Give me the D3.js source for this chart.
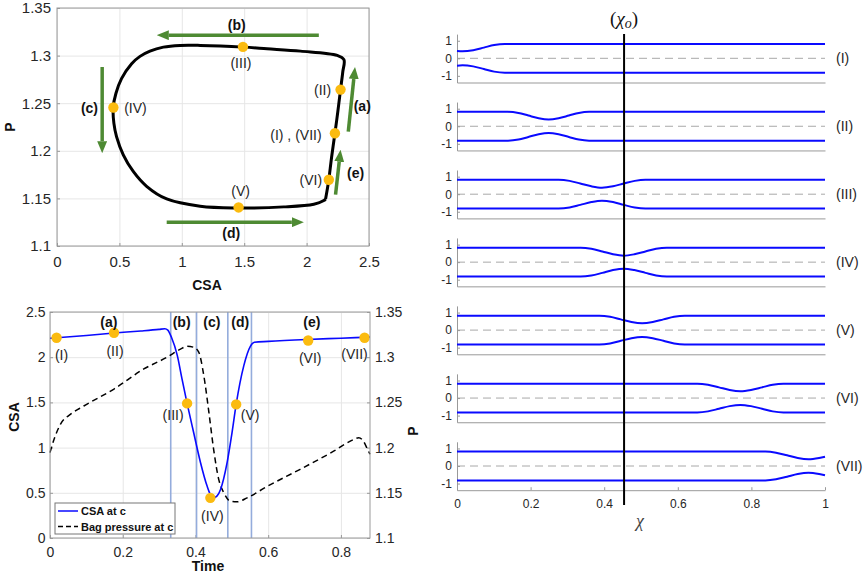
<!DOCTYPE html>
<html><head><meta charset="utf-8">
<script src="https://cdn.jsdelivr.net/npm/d3@7"></script>
<style>
body{margin:0;background:#fff;}
svg{display:block;font-family:"Liberation Sans",Arial,Helvetica,sans-serif;}
</style></head><body>
<svg id="chart" width="865" height="575"></svg>
<script>
// ---------------- DATA ----------------
// Top-left: pressure–area loop (CSA, P)
const loopCSA = [2.152,2.165,2.178,2.200,2.227,2.250,2.272,2.290,2.299,2.245,1.951,1.683,1.495,1.147,0.986,0.852,0.745,0.665,0.598,0.517,0.472,0.450,0.456,0.477,0.531,0.611,0.718,0.879,1.147,1.442,1.817,2.058,2.138,2.152];
const loopP   = [1.1494,1.159,1.1696,1.193,1.2184,1.241,1.2643,1.283,1.2957,1.3002,1.3047,1.3072,1.3089,1.3107,1.3107,1.3089,1.3047,1.2992,1.2915,1.2758,1.2602,1.2455,1.2288,1.2149,1.1958,1.1783,1.1627,1.1494,1.1418,1.1400,1.1411,1.1439,1.1477,1.1494];
const loopDotLabels = ["(I) , (VII)","(II)","(III)","(IV)","(V)","(VI)"];
const loopDotCSA = [2.227,2.272,1.49,0.452,1.455,2.178];
const loopDotP   = [1.2184,1.2643,1.3092,1.2455,1.1405,1.1696];
const phaseNames = ["(a)","(b)","(c)","(d)","(e)"];
// arrows: start CSA, start P, end CSA, end P
const arrowX1 = [2.334,2.098,0.362,0.879,2.232];
const arrowY1 = [1.2201,1.3215,1.288,1.125,1.154];
const arrowX2 = [2.388,0.800,0.362,1.978,2.272];
const arrowY2 = [1.288,1.3215,1.1975,1.125,1.201];
const arrowLabelCSA = [2.446,1.44,0.26,1.396,2.393];
const arrowLabelP   = [1.247,1.3326,1.2445,1.114,1.177];

// Bottom-left: time series
const timeCSA = [0,0.1,0.176,0.25,0.300,0.316,0.324,0.334,0.35,0.363,0.377,0.395,0.414,0.432,0.441,0.449,0.459,0.469,0.487,0.50,0.512,0.533,0.551,0.562,0.6,0.707,0.8,0.88];
const valCSA  = [2.21,2.24,2.267,2.29,2.308,2.315,2.30,2.22,2.02,1.76,1.49,1.167,0.833,0.574,0.48,0.444,0.463,0.537,0.833,1.15,1.48,1.907,2.120,2.165,2.175,2.196,2.21,2.222];
const timeP = [0,0.011,0.029,0.057,0.093,0.176,0.258,0.322,0.359,0.377,0.395,0.409,0.423,0.437,0.45,0.464,0.478,0.496,0.514,0.542,0.597,0.688,0.78,0.835,0.849,0.862,0.871,0.88];
const valP  = [1.1944,1.209,1.226,1.237,1.246,1.2648,1.287,1.30,1.309,1.312,1.311,1.3056,1.2796,1.2389,1.198,1.1648,1.15,1.1407,1.14,1.1444,1.157,1.176,1.196,1.209,1.211,1.207,1.20,1.1926];
const stageLabels = ["(I)","(II)","(III)","(IV)","(V)","(VI)","(VII)"];
const stageTime = [0.018,0.176,0.377,0.441,0.512,0.71,0.865];
const stageCSA  = [2.215,2.27,1.489,0.444,1.478,2.185,2.215];
const phaseBounds = [0.332,0.403,0.489,0.554];
const phaseTime = [0.162,0.362,0.445,0.523,0.72];
const legendNames = ["CSA at c","Bag pressure at c"];

// Right: tube wall profiles (chi, upper wall radius) for stages I..VII
const wallI   = [[0,0.42],[0.015,0.40],[0.044,0.46],[0.073,0.61],[0.101,0.76],[0.13,0.82],[1,0.82]];
const wallII  = [[0,0.82],[0.139,0.82],[0.167,0.76],[0.194,0.61],[0.222,0.46],[0.249,0.39],[0.276,0.46],[0.304,0.61],[0.331,0.76],[0.359,0.82],[1,0.82]];
const wallIII = [[0,0.82],[0.276,0.82],[0.306,0.76],[0.335,0.61],[0.365,0.45],[0.394,0.37],[0.424,0.45],[0.453,0.61],[0.483,0.76],[0.512,0.82],[1,0.82]];
const wallIV  = [[0,0.82],[0.336,0.82],[0.365,0.76],[0.395,0.61],[0.424,0.45],[0.453,0.37],[0.482,0.45],[0.512,0.61],[0.541,0.76],[0.570,0.82],[1,0.82]];
const wallV   = [[0,0.82],[0.387,0.82],[0.416,0.76],[0.445,0.61],[0.474,0.46],[0.503,0.39],[0.532,0.46],[0.561,0.61],[0.590,0.76],[0.619,0.82],[1,0.82]];
const wallVI  = [[0,0.82],[0.653,0.82],[0.682,0.76],[0.712,0.61],[0.741,0.46],[0.770,0.39],[0.799,0.46],[0.829,0.61],[0.858,0.76],[0.887,0.82],[1,0.82]];
const wallVII = [[0,0.82],[0.838,0.82],[0.867,0.76],[0.897,0.61],[0.926,0.46],[0.955,0.39],[0.984,0.46],[1,0.53]];
const chiO = 0.454;

const ticksCSA = [0,0.5,1,1.5,2,2.5];
const ticksP = [1.1,1.15,1.2,1.25,1.3,1.35];
const ticksTime = [0,0.2,0.4,0.6,0.8];
const ticksChi = [0,0.2,0.4,0.6,0.8,1];
const ticksWall = [-1,0,1];

// ---------------- DRAW ----------------
const svg = d3.select("#chart");
const axisColor = "#999", gridColor = "#e6e6e6", textColor = "#262626";
const FONT = "Liberation Sans, Arial, Helvetica, sans-serif";
const orange = "#fbbb10", green = "#4e8a33", blue = "#0a0aff";
const fmt = d => String(+d.toFixed(4));

function styleAxis(s, size, keepDomain) {
  if (!keepDomain) s.select(".domain").remove();
  s.attr("font-family", FONT).attr("font-size", size);
  s.selectAll("text").attr("fill", textColor);
  s.selectAll("line").attr("stroke", axisColor);
  s.select(".domain").attr("stroke", axisColor);
}
function grid(g, x, y, xt, yt, L, R, T, B) {
  g.append("g").attr("transform", `translate(0,${B})`)
    .call(d3.axisBottom(x).tickValues(xt).tickSize(-(B - T)).tickFormat(""))
    .call(s => { s.select(".domain").remove(); s.selectAll("line").attr("stroke", gridColor); });
  g.append("g").attr("transform", `translate(${L},0)`)
    .call(d3.axisLeft(y).tickValues(yt).tickSize(-(R - L)).tickFormat(""))
    .call(s => { s.select(".domain").remove(); s.selectAll("line").attr("stroke", gridColor); });
}

// ===== Top-left chart =====
const A = {l: 57, r: 369, t: 8, b: 246};
const xA = d3.scaleLinear().domain([0, 2.5]).range([A.l, A.r]);
const yA = d3.scaleLinear().domain([1.1, 1.35]).range([A.b, A.t]);
const gA = svg.append("g");
grid(gA, xA, yA, ticksCSA, ticksP, A.l, A.r, A.t, A.b);
gA.append("g").attr("transform", `translate(0,${A.b})`)
  .call(d3.axisBottom(xA).tickValues(ticksCSA).tickSize(-3).tickSizeOuter(0).tickPadding(10).tickFormat(fmt))
  .call(s => styleAxis(s, 15));
gA.append("g").attr("transform", `translate(${A.l},0)`)
  .call(d3.axisLeft(yA).tickValues(ticksP).tickSize(-3).tickSizeOuter(0).tickPadding(6).tickFormat(fmt))
  .call(s => styleAxis(s, 15));
gA.append("rect").attr("x", A.l).attr("y", A.t).attr("width", A.r - A.l).attr("height", A.b - A.t)
  .attr("fill", "none").attr("stroke", axisColor);

const loopPts = loopCSA.map((c, i) => [c, loopP[i]]);
gA.append("path").datum(loopPts)
  .attr("d", d3.line().x(d => xA(d[0])).y(d => yA(d[1])).curve(d3.curveCatmullRom.alpha(0.5)))
  .attr("fill", "none").attr("stroke", "#000").attr("stroke-width", 3).attr("stroke-linejoin", "round");

// arrows
const defs = svg.append("defs");
defs.append("marker").attr("id", "ah").attr("viewBox", "0 -5 12 10")
  .attr("refX", 0).attr("refY", 0).attr("markerWidth", 12).attr("markerHeight", 10)
  .attr("markerUnits", "userSpaceOnUse").attr("orient", "auto")
  .append("path").attr("d", "M0,-5L12,0L0,5Z").attr("fill", green);
arrowX1.forEach((_, i) => {
  const x1 = xA(arrowX1[i]), y1 = yA(arrowY1[i]), x2 = xA(arrowX2[i]), y2 = yA(arrowY2[i]);
  const len = Math.hypot(x2 - x1, y2 - y1);
  const ux = (x2 - x1) / len, uy = (y2 - y1) / len;
  gA.append("line").attr("x1", x1).attr("y1", y1).attr("x2", x2 - ux * 12).attr("y2", y2 - uy * 12)
    .attr("stroke", green).attr("stroke-width", 3.5).attr("marker-end", "url(#ah)");
  gA.append("text").attr("x", xA(arrowLabelCSA[i])).attr("y", yA(arrowLabelP[i]))
    .attr("text-anchor", "middle").attr("dominant-baseline", "central")
    .attr("font-size", 14).attr("font-weight", "bold").attr("fill", "#111").text(phaseNames[i]);
});
// dots
const loopLabelOff = [[-39, 2], [-18, 0], [-2, 16], [22, 1], [2, -16], [-18, 0]];
loopDotCSA.forEach((c, i) => {
  gA.append("circle").attr("cx", xA(c)).attr("cy", yA(loopDotP[i])).attr("r", 5.2).attr("fill", orange);
  gA.append("text").attr("x", xA(c) + loopLabelOff[i][0]).attr("y", yA(loopDotP[i]) + loopLabelOff[i][1])
    .attr("text-anchor", "middle").attr("dominant-baseline", "central")
    .attr("font-size", 14).attr("fill", textColor).text(loopDotLabels[i]);
});
gA.append("text").attr("x", 207).attr("y", 290).attr("text-anchor", "middle")
  .attr("font-size", 14).attr("font-weight", "bold").attr("fill", "#111").text("CSA");
gA.append("text").attr("transform", `translate(15,${(A.t + A.b) / 2}) rotate(-90)`).attr("text-anchor", "middle")
  .attr("font-size", 14).attr("font-weight", "bold").attr("fill", "#111").text("P");

// ===== Bottom-left chart =====
const B = {l: 50, r: 370, t: 312, b: 538};
const xB = d3.scaleLinear().domain([0, 0.88]).range([B.l, B.r]);
const yB = d3.scaleLinear().domain([0, 2.5]).range([B.b, B.t]);
const yB2 = d3.scaleLinear().domain([1.1, 1.35]).range([B.b, B.t]);
const gB = svg.append("g");
grid(gB, xB, yB, ticksTime, ticksCSA, B.l, B.r, B.t, B.b);
gB.append("g").attr("transform", `translate(0,${B.b})`)
  .call(d3.axisBottom(xB).tickValues(ticksTime).tickSize(-3).tickSizeOuter(0).tickPadding(9).tickFormat(fmt))
  .call(s => styleAxis(s, 14));
gB.append("g").attr("transform", `translate(${B.l},0)`)
  .call(d3.axisLeft(yB).tickValues(ticksCSA).tickSize(-3).tickSizeOuter(0).tickPadding(4.5).tickFormat(fmt))
  .call(s => styleAxis(s, 14));
gB.append("g").attr("transform", `translate(${B.r},0)`)
  .call(d3.axisRight(yB2).tickValues(ticksP).tickSize(-3).tickSizeOuter(0).tickPadding(5).tickFormat(fmt))
  .call(s => styleAxis(s, 14));
gB.selectAll(".pb").data(phaseBounds).enter().append("line")
  .attr("x1", d => xB(d)).attr("x2", d => xB(d)).attr("y1", B.t).attr("y2", B.b)
  .attr("stroke", "#94acdc").attr("stroke-width", 1.6);
const pPts = timeP.map((t, i) => [t, valP[i]]);
gB.append("path").datum(pPts)
  .attr("d", d3.line().x(d => xB(d[0])).y(d => yB2(d[1])).curve(d3.curveMonotoneX))
  .attr("fill", "none").attr("stroke", "#000").attr("stroke-width", 1.5).attr("stroke-dasharray", "6,4");
const cPts = timeCSA.map((t, i) => [t, valCSA[i]]);
gB.append("path").datum(cPts)
  .attr("d", d3.line().x(d => xB(d[0])).y(d => yB(d[1])).curve(d3.curveMonotoneX))
  .attr("fill", "none").attr("stroke", blue).attr("stroke-width", 1.6);
const stageOff = [[5, 17], [1, 18], [-14, 12], [2, 18], [14, 11], [2, 18], [-10, 16]];
stageTime.forEach((t, i) => {
  gB.append("circle").attr("cx", xB(t)).attr("cy", yB(stageCSA[i])).attr("r", 5.2).attr("fill", orange);
  gB.append("text").attr("x", xB(t) + stageOff[i][0]).attr("y", yB(stageCSA[i]) + stageOff[i][1])
    .attr("text-anchor", "middle").attr("dominant-baseline", "central")
    .attr("font-size", 14).attr("fill", textColor).text(stageLabels[i]);
});
phaseTime.forEach((t, i) => {
  gB.append("text").attr("x", xB(t)).attr("y", 322).attr("text-anchor", "middle").attr("dominant-baseline", "central")
    .attr("font-size", 14).attr("font-weight", "bold").attr("fill", "#111").text(phaseNames[i]);
});
gB.append("rect").attr("x", B.l).attr("y", B.t).attr("width", B.r - B.l).attr("height", B.b - B.t)
  .attr("fill", "none").attr("stroke", axisColor);
// legend
const lg = gB.append("g");
lg.append("rect").attr("x", 55).attr("y", 503).attr("width", 120).attr("height", 31)
  .attr("fill", "#fff").attr("stroke", "#777");
legendNames.forEach((n, i) => {
  const yy = 511 + i * 15.5;
  lg.append("line").attr("x1", 58).attr("x2", 78).attr("y1", yy).attr("y2", yy)
    .attr("stroke", i === 0 ? blue : "#000").attr("stroke-width", 1.5)
    .attr("stroke-dasharray", i === 0 ? null : "5,3");
  lg.append("text").attr("x", 81).attr("y", yy).attr("dominant-baseline", "central")
    .attr("font-size", 11).attr("font-weight", "bold").attr("fill", "#111").text(n);
});
gB.append("text").attr("x", 208).attr("y", 571).attr("text-anchor", "middle")
  .attr("font-size", 14).attr("font-weight", "bold").attr("fill", "#111").text("Time");
gB.append("text").attr("transform", `translate(19,417) rotate(-90)`).attr("text-anchor", "middle")
  .attr("font-size", 14).attr("font-weight", "bold").attr("fill", "#111").text("CSA");
gB.append("text").attr("transform", `translate(418,431) rotate(-90)`).attr("text-anchor", "middle")
  .attr("font-size", 14).attr("font-weight", "bold").attr("fill", "#111").text("P");

// ===== Right panels =====
const walls = [wallI, wallII, wallIII, wallIV, wallV, wallVI, wallVII];
const xR = d3.scaleLinear().domain([0, 1]).range([457, 825]);
const gR = svg.append("g");
walls.forEach((wall, i) => {
  const y0 = 58.3 + i * 67.95;
  const yR = d3.scaleLinear().domain([-1.38, 1.38]).range([y0 + 24.2, y0 - 24.2]);
  const g = gR.append("g");
  g.append("line").attr("x1", xR(0)).attr("x2", xR(1)).attr("y1", yR(0)).attr("y2", yR(0))
    .attr("stroke", "#a8a8a8").attr("stroke-dasharray", "8,5");
  g.append("g").attr("transform", `translate(${xR(0)},0)`)
    .call(d3.axisLeft(yR).tickValues(ticksWall).tickSize(-3).tickSizeOuter(0).tickPadding(5).tickFormat(fmt))
    .call(s => styleAxis(s, 12, true));
  const last = i === walls.length - 1;
  g.append("g").attr("transform", `translate(0,${yR(-1.38)})`)
    .call(d3.axisBottom(xR).tickValues(last ? ticksChi : []).tickSize(-3).tickSizeOuter(0).tickPadding(9).tickFormat(fmt))
    .call(s => styleAxis(s, 12, true));
  const up = d3.line().x(d => xR(d[0])).y(d => yR(d[1])).curve(d3.curveMonotoneX);
  const lo = d3.line().x(d => xR(d[0])).y(d => yR(-d[1])).curve(d3.curveMonotoneX);
  g.append("path").datum(wall).attr("d", up).attr("fill", "none").attr("stroke", blue).attr("stroke-width", 2);
  g.append("path").datum(wall).attr("d", lo).attr("fill", "none").attr("stroke", blue).attr("stroke-width", 2);
  g.append("text").attr("x", 836).attr("y", yR(0)).attr("dominant-baseline", "central")
    .attr("font-size", 14).attr("fill", textColor).text(stageLabels[i]);
});
gR.append("line").attr("x1", xR(chiO)).attr("x2", xR(chiO)).attr("y1", 34).attr("y2", 505)
  .attr("stroke", "#000").attr("stroke-width", 2);
const t0 = gR.append("text").attr("x", xR(chiO)).attr("y", 25).attr("text-anchor", "middle")
  .attr("font-family", "Liberation Serif, DejaVu Serif, serif").attr("font-size", 19).attr("fill", "#111");
t0.append("tspan").text("(");
t0.append("tspan").attr("font-style", "italic").text("χ");
t0.append("tspan").attr("font-style", "italic").attr("font-size", 14).attr("dy", 3).text("o");
t0.append("tspan").attr("dy", -3).text(")");
gR.append("text").attr("x", 640).attr("y", 527).attr("text-anchor", "middle")
  .attr("font-family", "Liberation Serif, DejaVu Serif, serif").attr("font-style", "italic")
  .attr("font-size", 18).attr("fill", "#444").text("χ");
</script></body></html>
